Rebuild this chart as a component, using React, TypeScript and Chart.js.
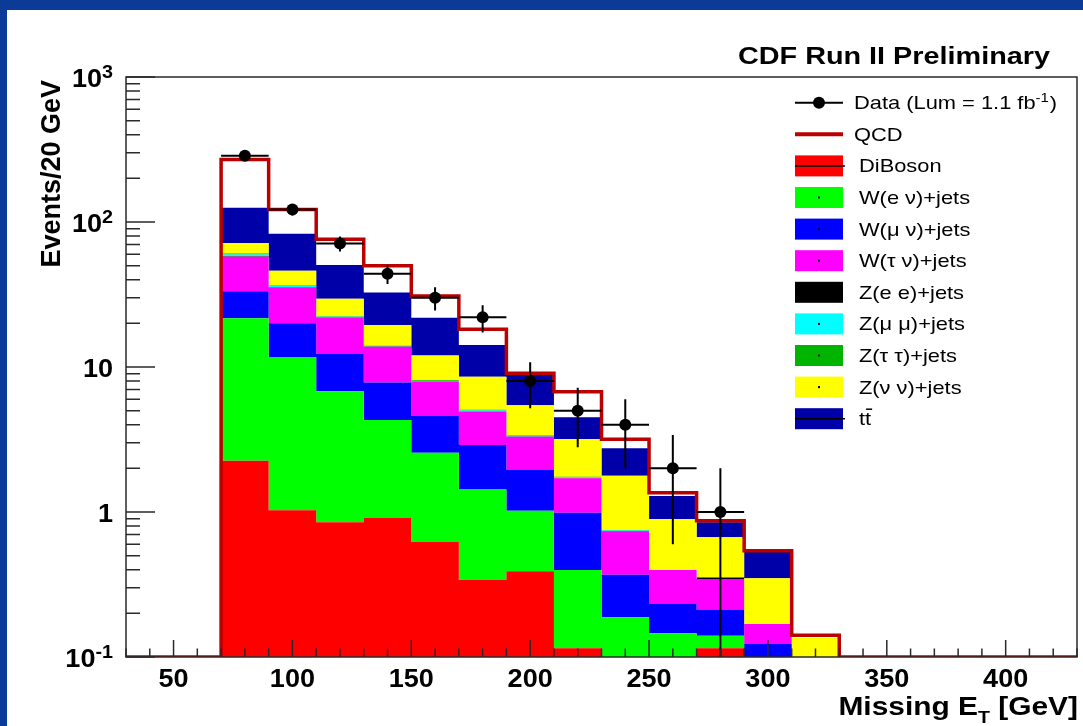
import React, { useEffect, useRef } from "react";
import { Chart, registerables } from "chart.js";

Chart.register(...registerables);

// Missing E_T binning (GeV): 20 GeV bins, histogram range 30–430
const binEdges = [70, 90, 110, 130, 150, 170, 190, 210, 230, 250, 270, 290, 310, 330];
const histRange = [30, 430];
const yRange = [0.1, 1000];
const xLabelValues = [50, 100, 150, 200, 250, 300, 350, 400];
const yDecades = [-1, 0, 1, 2, 3];

// Expected events per bin, stacked bottom to top
const diboson = [2.26, 1.03, 0.85, 0.91, 0.62, 0.34, 0.39, 0.115, 0.05, 0.05, 0.115, 0, 0];
const wenu = [19.4, 10.7, 5.95, 3.4, 1.94, 1.09, 0.63, 0.283, 0.138, 0.096, 0.025, 0.04, 0];
const wmunu = [11.7, 8.3, 5.5, 3.52, 2.03, 1.47, 0.93, 0.59, 0.181, 0.086, 0.071, 0.083, 0];
const wtaunu = [24.3, 15.5, 9.7, 5.97, 3.33, 2.0, 1.35, 0.72, 0.362, 0.166, 0.134, 0.046, 0];
const zee = [0.3, 0.1, 0.05, 0.03, 0.02, 0.02, 0.01, 0.005, 0.005, 0, 0.008, 0, 0];
const zmumu = [1.8, 0.6, 0.2, 0.1, 0.06, 0.1, 0.03, 0.03, 0.01, 0, 0, 0, 0];
const ztautau = [0.9, 0.3, 0.15, 0.1, 0.1, 0.05, 0.03, 0.01, 0.005, 0, 0, 0, 0];
const znunu = [10.9, 9.5, 7.2, 5.47, 3.9, 3.5, 2.08, 1.435, 1.03, 0.498, 0.317, 0.18, 0.135];
const ttbar = [54, 37, 20.9, 13.1, 9.9, 5.63, 3.35, 1.31, 0.97, 0.394, 0.18, 0.186, 0];
const qcd = [144, 39, 25.5, 17.3, 9.0, 4.0, 0.24, 2.26, 0.42, 0.07, 0.02, 0.006, 0.006];

// Observed events (first 11 bins) and their statistical errors
const dataCounts = [286, 122, 71, 44, 30, 22, 8, 5, 4, 2, 1];
const dataErrors = [17, 11, 8.4, 6.6, 5.5, 4.7, 2.8, 2.2, 2.0, 1.4, 1.0];

type Mark = "line" | "dot" | "none";
const stackSeries: { label: string; values: number[]; color: string; mark: Mark }[] = [
  { label: "DiBoson", values: diboson, color: "#ff0000", mark: "line" },
  { label: "W(e \u03bd)+jets", values: wenu, color: "#00ff00", mark: "dot" },
  { label: "W(\u03bc \u03bd)+jets", values: wmunu, color: "#0000ff", mark: "dot" },
  { label: "W(\u03c4 \u03bd)+jets", values: wtaunu, color: "#ff00ff", mark: "dot" },
  { label: "Z(e e)+jets", values: zee, color: "#000000", mark: "none" },
  { label: "Z(\u03bc \u03bc)+jets", values: zmumu, color: "#00ffff", mark: "dot" },
  { label: "Z(\u03c4 \u03c4)+jets", values: ztautau, color: "#00b400", mark: "dot" },
  { label: "Z(\u03bd \u03bd)+jets", values: znunu, color: "#ffff00", mark: "dot" },
  { label: "tt", values: ttbar, color: "#0000a8", mark: "line" },
];
const qcdColor = "#bb0000";

const BELOW_AXIS = 1e-4;
const nBins = binEdges.length - 1;

const cumulative: number[][] = [];
let running = new Array(nBins).fill(0);
stackSeries.forEach((s) => {
  running = running.map((r, i) => r + s.values[i]);
  cumulative.push(running);
});
const totals = running.map((r, i) => r + qcd[i]);

const stepPoints = (tops: number[]) => [
  ...tops.map((v, i) => ({ x: binEdges[i], y: v > 0 ? v : BELOW_AXIS })),
  { x: binEdges[nBins], y: BELOW_AXIS },
];

const outlinePoints = [
  { x: histRange[0], y: yRange[0] },
  ...totals.map((v, i) => ({ x: binEdges[i], y: v })),
  { x: binEdges[nBins], y: yRange[0] },
  { x: histRange[1], y: yRange[0] },
];

const dataPoints = dataCounts.map((n, i) => ({ x: (binEdges[i] + binEdges[i + 1]) / 2, y: n }));

const BOLD = '"Liberation Sans", Arial, Helvetica, sans-serif';

function drawText(
  ctx: CanvasRenderingContext2D,
  text: string,
  x: number,
  y: number,
  font: string,
  align: "left" | "right" | "center",
  sx = 1
): number {
  ctx.save();
  ctx.font = font;
  const w = ctx.measureText(text).width * sx;
  const left = align === "left" ? x : align === "right" ? x - w : x - w / 2;
  ctx.translate(left, y);
  ctx.scale(sx, 1);
  ctx.textAlign = "left";
  ctx.textBaseline = "alphabetic";
  ctx.fillText(text, 0, 0);
  ctx.restore();
  return w;
}

function textWidth(ctx: CanvasRenderingContext2D, text: string, font: string, sx = 1) {
  ctx.save();
  ctx.font = font;
  const w = ctx.measureText(text).width * sx;
  ctx.restore();
  return w;
}

const decorations = {
  id: "cdfDecorations",
  afterDatasetsDraw(chart: any) {
    const { ctx, chartArea: a } = chart;
    const xs = chart.scales.x;
    const ys = chart.scales.y;

    // statistical error bars on the data
    ctx.save();
    ctx.beginPath();
    ctx.rect(a.left, a.top, a.right - a.left, a.bottom - a.top);
    ctx.clip();
    ctx.strokeStyle = "#000";
    ctx.lineWidth = 2;
    dataCounts.forEach((n, i) => {
      const lo = binEdges[i];
      const hi = binEdges[i + 1];
      const cx = xs.getPixelForValue((lo + hi) / 2);
      const cy = ys.getPixelForValue(n);
      const up = ys.getPixelForValue(n + dataErrors[i]);
      const down = n - dataErrors[i] > 0 ? ys.getPixelForValue(n - dataErrors[i]) : a.bottom + 10;
      ctx.beginPath();
      ctx.moveTo(cx, up);
      ctx.lineTo(cx, down);
      ctx.moveTo(xs.getPixelForValue(lo), cy);
      ctx.lineTo(xs.getPixelForValue(hi), cy);
      ctx.stroke();
    });
    ctx.restore();

    // frame and inward ticks
    ctx.save();
    ctx.strokeStyle = "#2a2a2a";
    ctx.lineWidth = 1.5;
    ctx.strokeRect(a.left, a.top, a.right - a.left, a.bottom - a.top);
    ctx.beginPath();
    yDecades.forEach((d) => {
      const base = Math.pow(10, d);
      const py = ys.getPixelForValue(base);
      ctx.moveTo(a.left, py);
      ctx.lineTo(a.left + 29, py);
      if (d < yDecades[yDecades.length - 1]) {
        for (let m = 2; m <= 9; m++) {
          const p = ys.getPixelForValue(m * base);
          ctx.moveTo(a.left, p);
          ctx.lineTo(a.left + 14, p);
        }
      }
    });
    for (let v = histRange[0]; v <= histRange[1]; v += 10) {
      const px = xs.getPixelForValue(v);
      const len = v % 50 === 0 ? 17 : 8.5;
      ctx.moveTo(px, a.bottom);
      ctx.lineTo(px, a.bottom - len);
    }
    ctx.stroke();
    ctx.restore();

    ctx.save();
    ctx.fillStyle = "#000";
    const tickFont = `bold 26px ${BOLD}`;
    const supFont = `bold 19px ${BOLD}`;
    const labelRight = a.left - 13;

    // y tick labels
    yDecades.forEach((d) => {
      const py = ys.getPixelForValue(Math.pow(10, d));
      if (d === 0 || d === 1) {
        drawText(ctx, d === 0 ? "1" : "10", labelRight, py + 9.5, tickFont, "right", 1.04);
      } else {
        const sup = String(d);
        const sw = textWidth(ctx, sup, supFont, 1.04);
        drawText(ctx, sup, labelRight, py + 0.5, supFont, "right", 1.04);
        drawText(ctx, "10", labelRight - sw, py + 9.5, tickFont, "right", 1.04);
      }
    });

    // x tick labels
    xLabelValues.forEach((v) => {
      drawText(ctx, String(v), xs.getPixelForValue(v), a.bottom + 30, tickFont, "center", 1.04);
    });

    // x axis title: Missing E_T [GeV]
    const titleFont = `bold 26px ${BOLD}`;
    const subFont = `bold 17px ${BOLD}`;
    const xsx = 1.15;
    const tail = " [GeV]";
    const wTail = textWidth(ctx, tail, titleFont, xsx);
    const wSub = textWidth(ctx, "T", subFont, xsx);
    const right = a.right + 1;
    drawText(ctx, tail, right, a.bottom + 58, titleFont, "right", xsx);
    drawText(ctx, "T", right - wTail, a.bottom + 66, subFont, "right", xsx);
    drawText(ctx, "Missing E", right - wTail - wSub, a.bottom + 58, titleFont, "right", xsx);

    // y axis title
    ctx.save();
    ctx.font = `bold 27px ${BOLD}`;
    ctx.translate(60, a.top + 3);
    ctx.scale(1.05, 1);
    ctx.rotate(-Math.PI / 2);
    ctx.textAlign = "right";
    ctx.textBaseline = "alphabetic";
    ctx.fillText("Events/20 GeV", 0, 0);
    ctx.restore();

    // header
    drawText(ctx, "CDF Run II Preliminary", 1050, 64, `bold 24px ${BOLD}`, "right", 1.2);

    // legend
    const rowH = 31.6;
    const row0 = 102.7;
    const boxL = 795;
    const boxW = 48;
    const boxH = 21;
    const legFont = `19px ${BOLD}`;
    const lsx = 1.15;

    // Data entry
    ctx.strokeStyle = "#000";
    ctx.lineWidth = 2;
    ctx.beginPath();
    ctx.moveTo(boxL, row0);
    ctx.lineTo(boxL + boxW, row0);
    ctx.stroke();
    ctx.beginPath();
    ctx.arc(boxL + boxW / 2, row0, 6, 0, Math.PI * 2);
    ctx.fill();
    let tx = 854;
    tx += drawText(ctx, "Data (Lum = 1.1 fb", tx, row0 + 6.5, legFont, "left", lsx);
    tx += drawText(ctx, "-1", tx, row0 - 1, `13px ${BOLD}`, "left", lsx);
    drawText(ctx, ")", tx + 1, row0 + 6.5, legFont, "left", lsx);

    // QCD entry
    const rq = row0 + rowH;
    ctx.strokeStyle = qcdColor;
    ctx.lineWidth = 4;
    ctx.beginPath();
    ctx.moveTo(boxL, rq);
    ctx.lineTo(boxL + boxW, rq);
    ctx.stroke();
    drawText(ctx, "QCD", 854, rq + 6.5, legFont, "left", lsx);

    // stacked process entries
    stackSeries.forEach((s, k) => {
      const cy = row0 + rowH * (k + 2);
      ctx.fillStyle = s.color;
      ctx.fillRect(boxL, cy - boxH / 2, boxW, boxH);
      ctx.fillStyle = "#000";
      ctx.strokeStyle = "#000";
      if (s.mark === "line") {
        ctx.lineWidth = 1.5;
        ctx.beginPath();
        ctx.moveTo(boxL, cy);
        ctx.lineTo(boxL + boxW + 2, cy);
        ctx.stroke();
      } else if (s.mark === "dot") {
        ctx.fillRect(boxL + boxW / 2 - 1, cy - 1, 2, 2);
      }
      const lx = 859;
      drawText(ctx, s.label, lx, cy + 6.5, legFont, "left", lsx);
      if (s.label === "tt") {
        const wt = textWidth(ctx, "t", legFont, lsx);
        ctx.lineWidth = 1.5;
        ctx.beginPath();
        ctx.moveTo(lx + wt + 1, cy - 9.5);
        ctx.lineTo(lx + 2 * wt + 1, cy - 9.5);
        ctx.stroke();
      }
    });
    ctx.restore();
  },
};

export default function App() {
  const canvasRef = useRef<HTMLCanvasElement | null>(null);

  useEffect(() => {
    const canvas = canvasRef.current;
    if (!canvas) return;

    const datasets: any[] = [
      {
        label: "Data",
        data: dataPoints,
        showLine: false,
        pointRadius: 6,
        pointBackgroundColor: "#000",
        pointBorderWidth: 0,
        borderColor: "#000",
        fill: false,
      },
      {
        label: "QCD",
        data: outlinePoints,
        stepped: true,
        borderColor: qcdColor,
        borderWidth: 3.5,
        pointRadius: 0,
        fill: false,
      },
      ...stackSeries.map((s, k) => ({
        label: s.label,
        data: stepPoints(cumulative[k]),
        stepped: true,
        borderWidth: 0,
        borderColor: "rgba(0,0,0,0)",
        backgroundColor: s.color,
        pointRadius: 0,
        fill: k === 0 ? "start" : "-1",
      })),
    ];

    const chart = new Chart(canvas, {
      type: "line",
      data: { datasets },
      options: {
        animation: false,
        responsive: false,
        events: [],
        layout: { padding: { left: 126, top: 77, right: 6, bottom: 69 } },
        scales: {
          x: { type: "linear", min: histRange[0], max: histRange[1], display: false },
          y: { type: "logarithmic", min: yRange[0], max: yRange[1], display: false },
        },
        plugins: {
          legend: { display: false },
          tooltip: { enabled: false },
          title: { display: false },
        },
      },
      plugins: [decorations],
    });

    return () => chart.destroy();
  }, []);

  return (
    <div
      style={{
        position: "fixed",
        left: 0,
        top: 0,
        width: 1083,
        height: 726,
        background: "#0b3a97",
        overflow: "hidden",
      }}
    >
      <div style={{ position: "absolute", left: 7, top: 10, right: 0, bottom: 0, background: "#ffffff" }} />
      <canvas ref={canvasRef} width={1083} height={726} style={{ position: "absolute", left: 0, top: 0 }} />
    </div>
  );
}
